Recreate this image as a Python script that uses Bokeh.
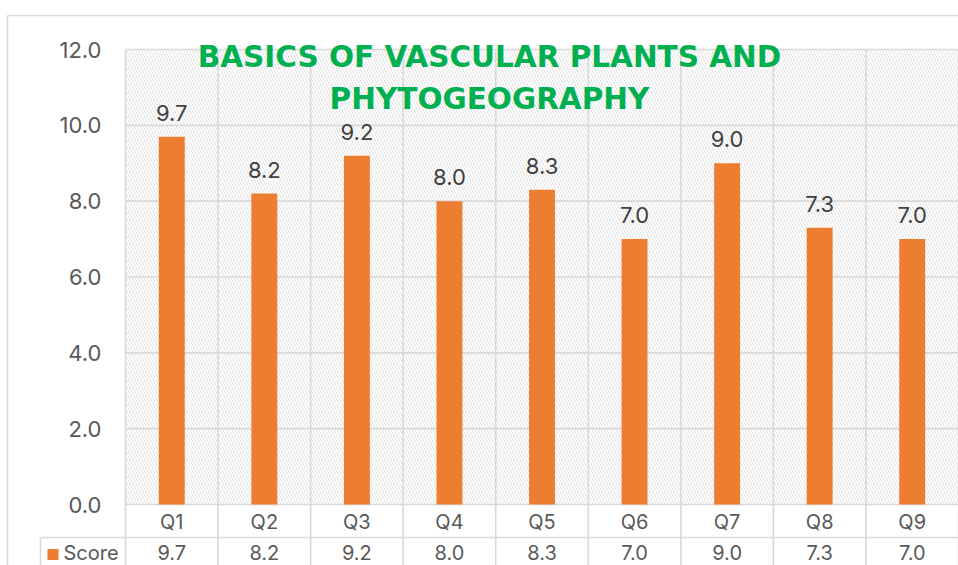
from bokeh.plotting import figure
from bokeh.models import Range1d, Label
from bokeh.core.properties import value
from bokeh.embed import file_html
from bokeh.resources import INLINE

# ---------------- data ----------------
categories = ["Q1", "Q2", "Q3", "Q4", "Q5", "Q6", "Q7", "Q8", "Q9"]
scores = [9.7, 8.2, 9.2, 8.0, 8.3, 7.0, 9.0, 7.3, 7.0]
y_ticks = [0, 2, 4, 6, 8, 10, 12]
y_tick_labels = [f"{t:.1f}" for t in y_ticks]
series_name = "Score"
title_text = "BASICS OF VASCULAR PLANTS AND\nPHYTOGEOGRAPHY"

# ---------------- layout (pixels inside the figure) ----------------
FIG_W, FIG_H = 958, 565
PA_L, PA_R, PA_T, PA_B = 125, 958, 49, 504
n = len(categories)
ux = (PA_R - PA_L) / n
ymax = max(y_ticks)
uy = (PA_B - PA_T) / ymax
x_start = -0.5 - PA_L / ux
x_end = x_start + FIG_W / ux
y_end = ymax + PA_T / uy
y_start = y_end - FIG_H / uy


def fx(px):
    return x_start + px / ux


def fy(py):
    return y_end - py / uy


FONT = value("Inter")
FS = "22px"
FS_TABLE = "20px"
GRID = "#D9D9D9"
ORANGE = "#ED7D31"

p = figure(width=FIG_W, height=FIG_H,
           x_range=Range1d(x_start, x_end), y_range=Range1d(y_start, y_end),
           x_axis_type=None, y_axis_type=None,
           output_backend="svg", toolbar_location=None,
           min_border=0, outline_line_color=None)
p.grid.visible = False
p.background_fill_color = "white"
p.border_fill_color = "white"

xs = list(range(n))
left_edge = -0.5
right_edge = n - 0.5

# plot area with hatch
p.quad(left=[left_edge], right=[right_edge], bottom=[0], top=[ymax],
       fill_color="white", line_color=None,
       hatch_pattern="\\", hatch_color="#E0E0E0", hatch_scale=6, hatch_weight=1)

# horizontal gridlines
p.segment(x0=[left_edge] * len(y_ticks), x1=[right_edge] * len(y_ticks),
          y0=y_ticks, y1=y_ticks, line_color=GRID, line_width=1.6)

# vertical cell borders (plot area + data table)
bounds = [i - 0.5 for i in range(n + 1)]
p.segment(x0=bounds, x1=bounds, y0=[ymax] * len(bounds), y1=[y_start] * len(bounds),
          line_color=GRID, line_width=1.6)

# data table row separator and legend cell
row_sep = fy(537)
legend_left = fx(40)
p.segment(x0=[legend_left], x1=[right_edge], y0=[row_sep], y1=[row_sep],
          line_color=GRID, line_width=1.6)
p.segment(x0=[legend_left], x1=[legend_left], y0=[row_sep], y1=[y_start],
          line_color=GRID, line_width=1.6)

# outer chart border
p.segment(x0=[fx(7), fx(7)], x1=[x_end, fx(7)],
          y0=[fy(15), fy(15)], y1=[fy(15), y_start],
          line_color=GRID, line_width=1.6)

# bars
p.vbar(x=xs, top=scores, bottom=0, width=0.28, fill_color=ORANGE, line_color=None)

# data labels
score_labels = [f"{s:.1f}" for s in scores]
p.text(x=xs, y=scores, text=score_labels, text_align="center",
       text_baseline="middle", y_offset=-24,
       text_font=FONT, text_font_size=FS, text_color="#404040")

# y tick labels
p.text(x=[fx(101)] * len(y_ticks), y=y_ticks, text=y_tick_labels,
       text_align="right", text_baseline="middle",
       text_font=FONT, text_font_size=FS, text_color="#595959")

# data table: category row and value row
p.text(x=xs, y=[fy(521)] * n, text=categories, text_align="center",
       text_baseline="middle", text_font=FONT, text_font_size=FS_TABLE,
       text_color="#595959")
p.text(x=xs, y=[fy(552)] * n, text=score_labels, text_align="center",
       text_baseline="middle", text_font=FONT, text_font_size=FS_TABLE,
       text_color="#595959")

# legend key in data table
p.scatter(x=[fx(52.5)], y=[fy(554)], marker="square", size=11,
          fill_color=ORANGE, line_color=None)
p.text(x=[fx(63)], y=[fy(552)], text=[series_name], text_align="left",
       text_baseline="middle", text_font=FONT, text_font_size=FS_TABLE,
       text_color="#595959")

# title overlapping plot area
title = Label(x=fx(489), y=fy(39), text=title_text, text_align="center",
              text_baseline="top", text_font="DejaVu Sans",
              text_font_style="bold", text_font_size="29.5px",
              text_color="#00B050", text_line_height=1.25)
p.add_layout(title)

open("out.html", "w").write(file_html(p, INLINE))
